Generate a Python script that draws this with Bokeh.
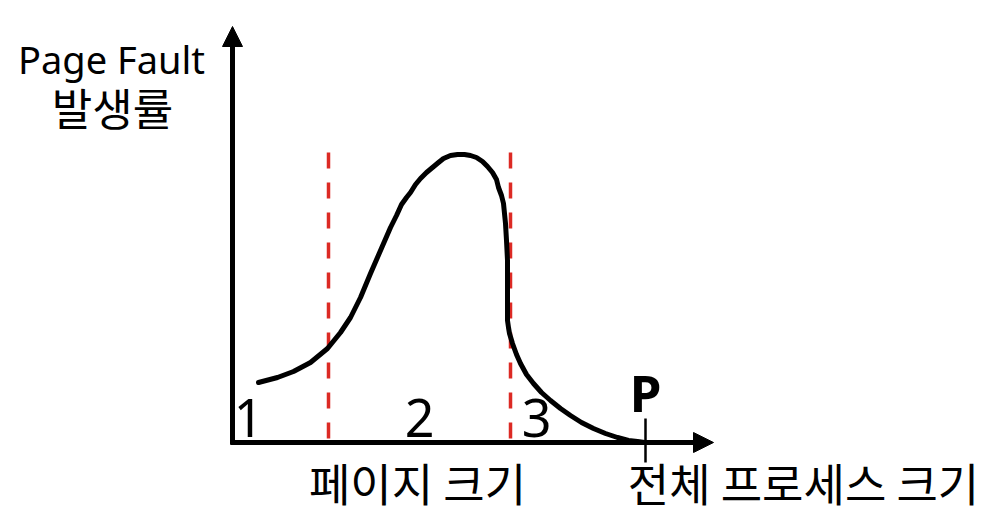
from bokeh.plotting import figure
from bokeh.models import Range1d, Arrow, NormalHead
from bokeh.core.properties import value
from bokeh.embed import file_html
from bokeh.resources import INLINE

# ---- data (diagram units: origin at axis corner, y upward) ----
curve_x = [26, 45, 61, 78, 95, 108, 118, 128, 138, 148, 158, 164, 169, 174, 178,
           183, 188, 194, 200, 206, 211, 218, 225, 232, 238, 244, 250, 255, 260,
           264, 266, 269, 271, 273, 274, 275, 275, 275, 275, 275, 276, 277, 280,
           284, 288, 294, 301, 309, 318, 328, 338, 349, 361, 373, 385, 396, 405, 412]
curve_y = [60, 65, 71, 80, 94, 110, 125, 145, 169, 192, 215, 227, 238, 245, 250,
           258, 264, 270, 275, 280, 284, 287, 288, 288, 287, 285, 281, 276, 270,
           263, 255, 247, 239, 219, 202, 182, 162, 142, 130, 122, 115, 109, 99,
           88, 79, 68, 59, 50, 42, 34, 27, 20, 14, 9, 5, 2, 1, 0]

boundary_x = [96, 278]          # red dashed section borders
boundary_top = 294
boundary_bottom = 4

x_axis_end = 481
y_axis_end = 416
p_mark_x = 413

region_labels = ["1", "2", "3"]
region_label_x = [16, 187, 304]

y_title = ["Page Fault", "발생률"]
x_title_left = "페이지 크기"
x_title_right = "전체 프로세스 크기"

# ---- figure ----
p = figure(width=984, height=514, output_backend="svg", toolbar_location=None,
           x_range=Range1d(-232, 752), y_range=Range1d(-72, 442),
           min_border=0)
p.axis.visible = False
p.grid.visible = False
p.outline_line_color = None
p.background_fill_color = "white"

# dashed boundaries
p.segment(x0=boundary_x, y0=[boundary_bottom] * 2, x1=boundary_x, y1=[boundary_top] * 2,
          line_color="#dc2a24", line_width=3.5, line_dash="16 14")

# curve
p.line(curve_x, curve_y, line_color="black", line_width=5, line_join="round", line_cap="round")

# axes with arrow heads
p.add_layout(Arrow(end=NormalHead(size=20, fill_color="black", line_color="black", line_width=1),
                   x_start=0, y_start=-2, x_end=0, y_end=y_axis_end,
                   line_width=5, line_color="black"))
p.add_layout(Arrow(end=NormalHead(size=20, fill_color="black", line_color="black", line_width=1),
                   x_start=-2, y_start=0, x_end=x_axis_end, y_end=0,
                   line_width=5, line_color="black"))

# P tick
p.segment(x0=[p_mark_x], y0=[-20], x1=[p_mark_x], y1=[24], line_color="black", line_width=2.5)
p.text(x=[p_mark_x], y=[51], text=["P"], text_font=value("Noto Sans"), text_font_style="bold",
       text_font_size="51px", text_align="center", text_baseline="alphabetic", text_color="black")

# region numbers
p.text(x=region_label_x, y=[25] * 3, text=region_labels, text_font=value("Noto Sans"),
       text_font_size="52px", text_align="center", text_baseline="alphabetic", text_color="black")

# y-axis title
p.text(x=[-121], y=[384], text=[y_title[0]], text_font=value("Noto Sans"),
       text_font_size="38px", text_align="center", text_baseline="alphabetic", text_color="black")
p.text(x=[-120], y=[336], text=[y_title[1]], text_font=value("Noto Sans CJK KR"),
       text_font_size="44px", text_align="center", text_baseline="middle", text_color="black")

# x-axis titles
p.text(x=[185], y=[-40], text=[x_title_left], text_font=value("Noto Sans CJK KR"),
       text_font_size="45px", text_align="center", text_baseline="middle", text_color="black")
p.text(x=[571], y=[-40], text=[x_title_right], text_font=value("Noto Sans CJK KR"),
       text_font_size="45px", text_align="center", text_baseline="middle", text_color="black")

open("out.html", "w").write(file_html(p, INLINE))
